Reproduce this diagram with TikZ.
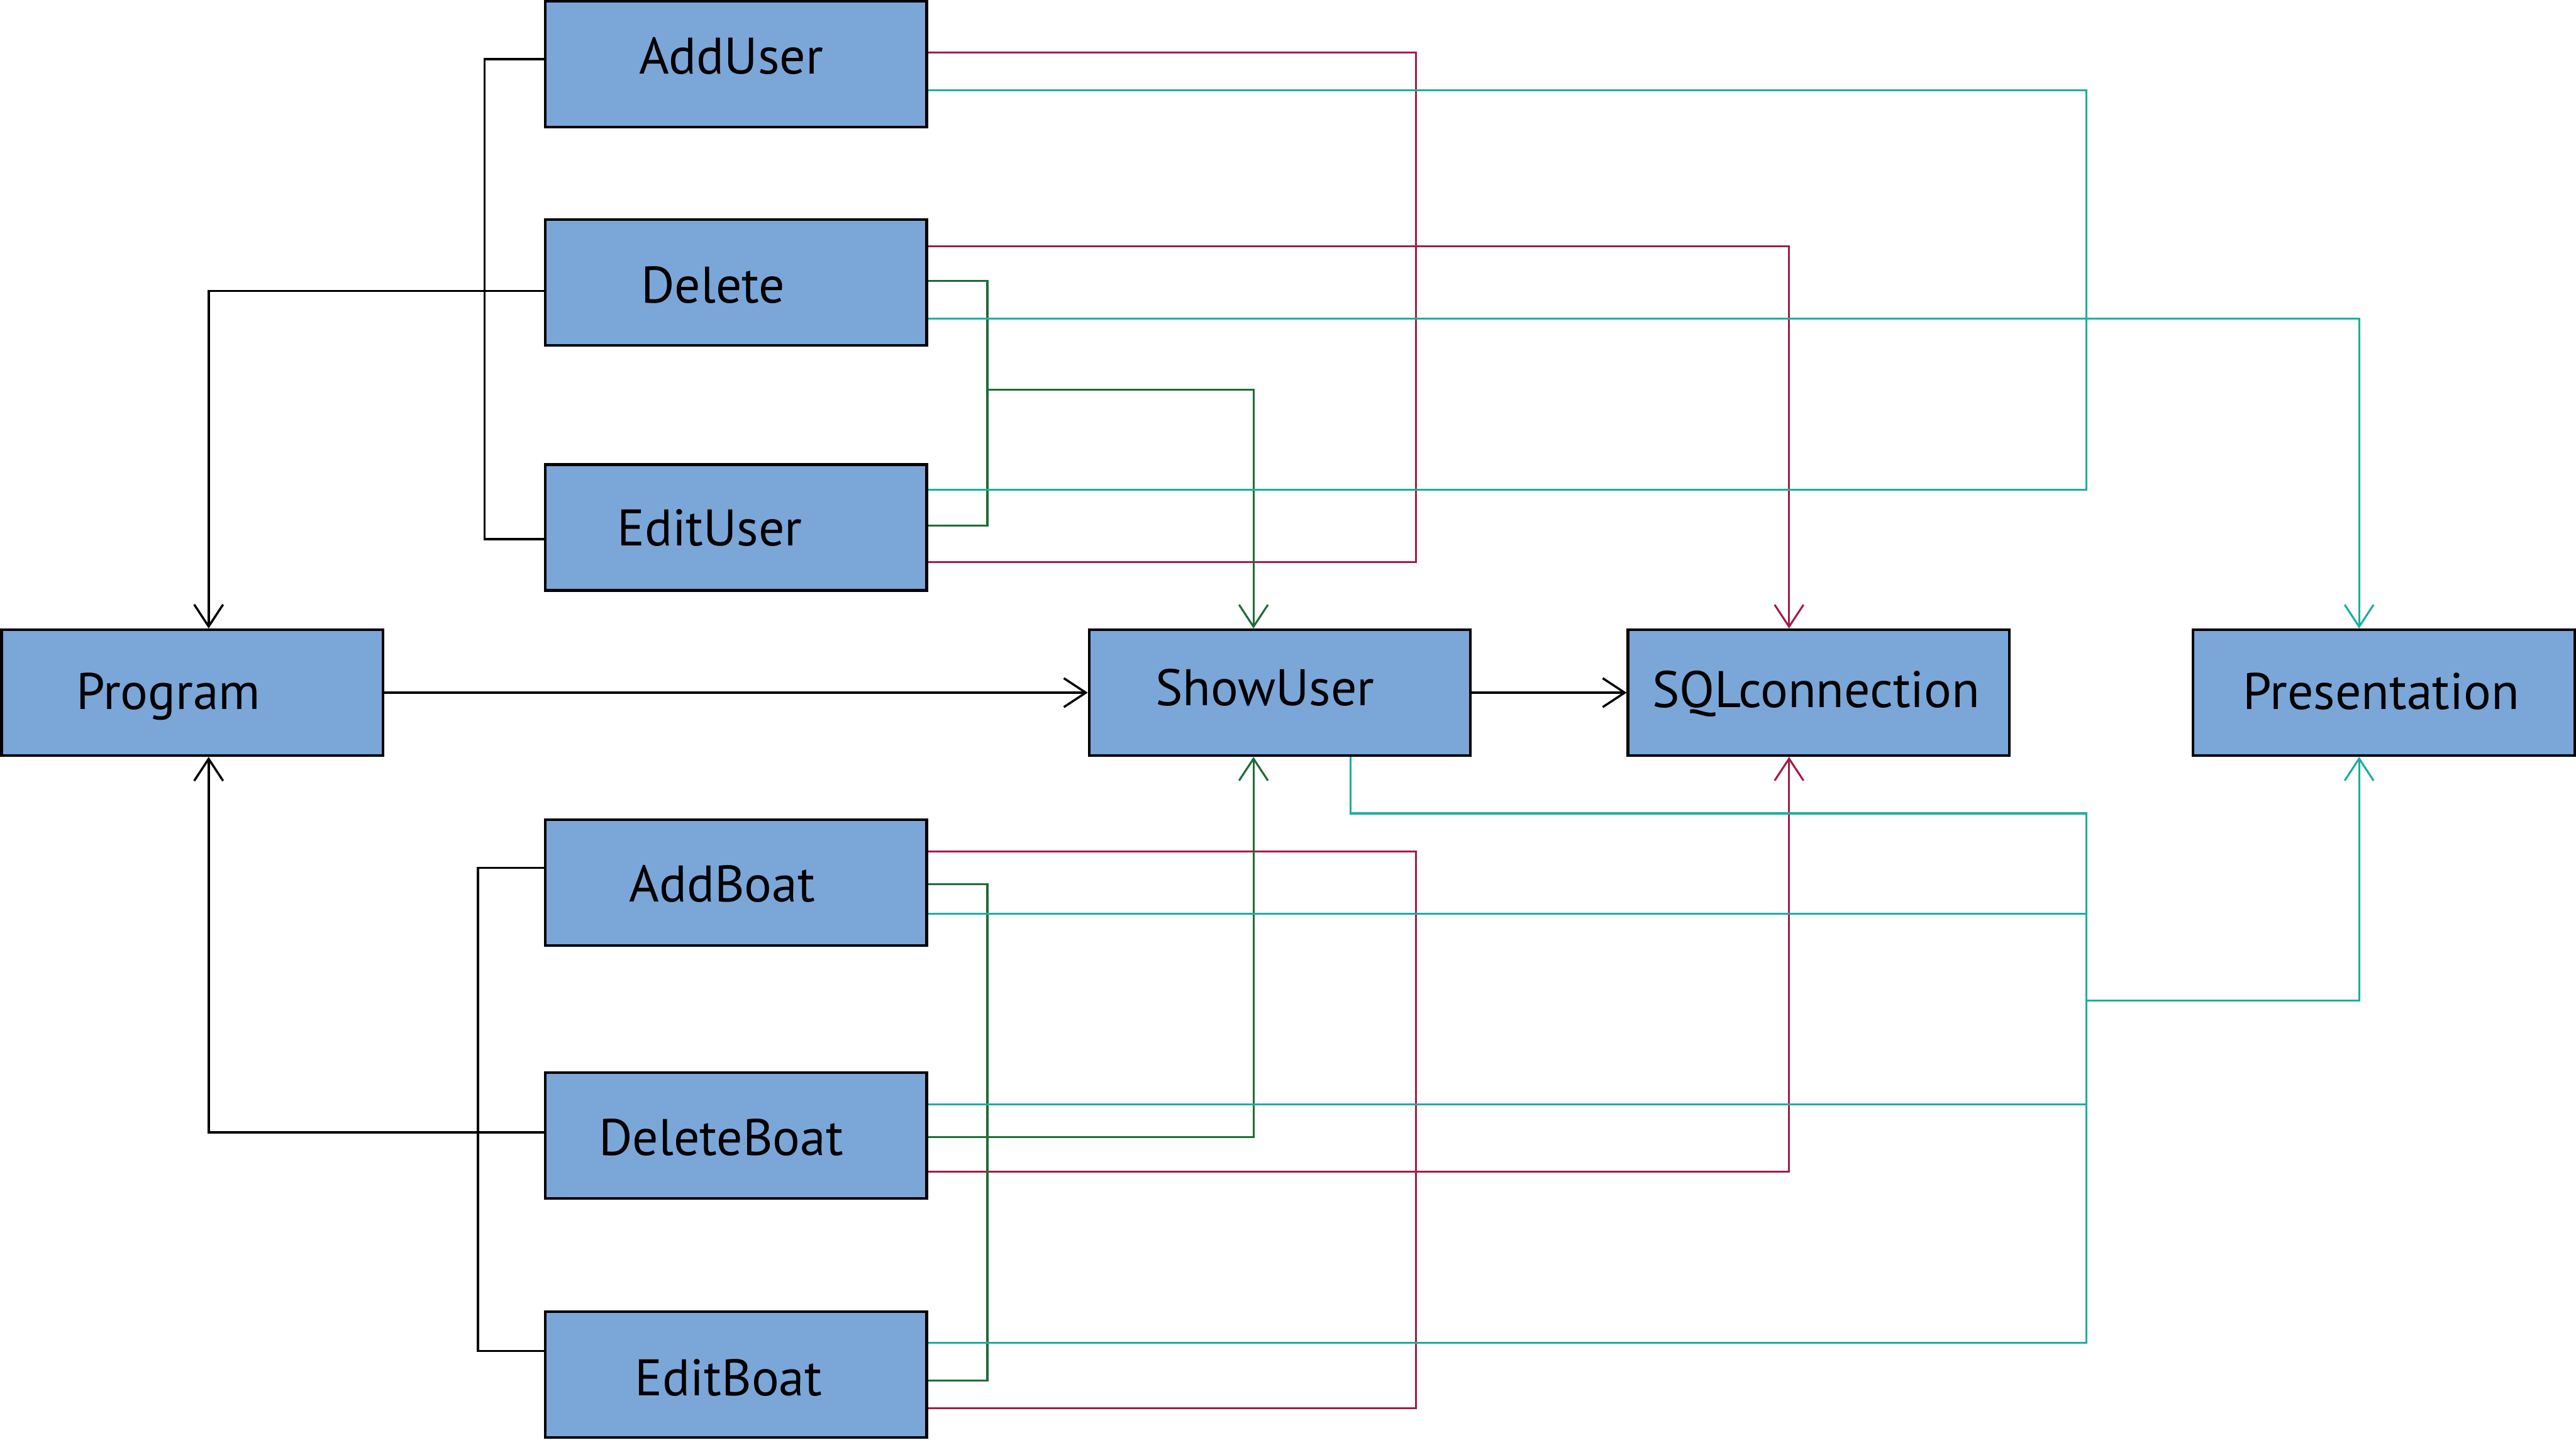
\documentclass[tikz,border=0pt]{standalone}
\usepackage{fontspec}
\setmainfont{PT Sans}
\usetikzlibrary{arrows.meta,calc}
\definecolor{boxfill}{HTML}{7BA6D8}
\definecolor{lred}{HTML}{A31C44}
\definecolor{lgreen}{HTML}{1F6B36}
\definecolor{lteal}{HTML}{1BAE9E}
\newcommand\lbl[3]{\hspace*{#1}\raisebox{#2}{#3}\hspace*{-#1}}
\begin{document}
\begin{tikzpicture}[x=0.01cm,y=-0.01cm,
  box/.style={draw=black, fill=boxfill, line width=0.45pt, minimum width=2.32cm,
    minimum height=0.765cm, inner sep=0pt, text height=6.23pt, text depth=0pt,
    font=\fontsize{8.9}{10}\selectfont},
  conn/.style={line width=0.34pt},
  blk/.style={conn, draw=black, line width=0.38pt},
  rd/.style={conn, draw=lred},
  gr/.style={conn, draw=lgreen},
  tl/.style={conn, draw=lteal},
  arr/.style={-{Straight Barb[length=3.8pt,width=5pt]}}]
\useasboundingbox (0,0) rectangle (1568,876);

% boxes
\node[box] (adduser)      at (448,39)    {\lbl{-0.03cm}{0.05cm}{AddUser}};
\node[box] (delete)       at (448,172)   {\lbl{-0.14cm}{-0.015cm}{Delete}};
\node[box] (edituser)     at (448,321)   {\lbl{-0.16cm}{0cm}{EditUser}};
\node[box] (program)      at (117,421.5) {\lbl{-0.145cm}{0.01cm}{Program}};
\node[box] (showuser)     at (779,421.5) {\lbl{-0.09cm}{0.03cm}{ShowUser}};
\node[box] (sql)          at (1107,421.5){\lbl{-0.015cm}{0.02cm}{SQLconnection}};
\node[box] (presentation) at (1451,421.5){\lbl{-0.015cm}{0.01cm}{Presentation}};
\node[box] (addboat)      at (448,537)   {\lbl{-0.085cm}{-0.01cm}{AddBoat}};
\node[box] (deleteboat)   at (448,691)   {\lbl{-0.09cm}{-0.01cm}{DeleteBoat}};
\node[box] (editboat)     at (448,836.5) {\lbl{-0.045cm}{-0.02cm}{EditBoat}};

% bus positions
\coordinate (bkT) at (295,0);
\coordinate (bkB) at (291,0);
\coordinate (rb)  at (862,0);
\coordinate (gb)  at (601,0);
\coordinate (tb)  at (1270,0);

% ports
\coordinate (auL) at ($(adduser.west)+(0,-3)$);
\coordinate (deL) at ($(delete.west)+(0,5)$);
\coordinate (euL) at ($(edituser.west)+(0,7)$);
\coordinate (abL) at ($(addboat.west)+(0,-9)$);
\coordinate (dbL) at ($(deleteboat.west)+(0,-2)$);
\coordinate (ebL) at ($(editboat.west)+(0,-14.5)$);

\coordinate (auR1) at ($(adduser.east)+(0,-7)$);
\coordinate (auR2) at ($(adduser.east)+(0,16)$);
\coordinate (deR1) at ($(delete.east)+(0,-22)$);
\coordinate (deR2) at ($(delete.east)+(0,-1)$);
\coordinate (deR3) at ($(delete.east)+(0,22)$);
\coordinate (euR1) at ($(edituser.east)+(0,-23)$);
\coordinate (euR2) at ($(edituser.east)+(0,-1)$);
\coordinate (euR3) at ($(edituser.east)+(0,21)$);
\coordinate (abR1) at ($(addboat.east)+(0,-19)$);
\coordinate (abR2) at ($(addboat.east)+(0,1)$);
\coordinate (abR3) at ($(addboat.east)+(0,19)$);
\coordinate (dbR1) at ($(deleteboat.east)+(0,-19)$);
\coordinate (dbR2) at ($(deleteboat.east)+(0,1)$);
\coordinate (dbR3) at ($(deleteboat.east)+(0,22)$);
\coordinate (ebR1) at ($(editboat.east)+(0,-19.5)$);
\coordinate (ebR2) at ($(editboat.east)+(0,3.5)$);
\coordinate (ebR3) at ($(editboat.east)+(0,20.5)$);

\coordinate (gj) at (601,237);
\coordinate (tt) at (1270,495);
\coordinate (tj) at (1270,609);
\coordinate (suB) at ($(showuser.south)+(43,0)$);

% black
\draw[blk] (auL) -- (auL -| bkT) -- (euL -| bkT) -- (euL);
\draw[blk,arr] (deL) -| ($(program.north)+(10,0)$);
\draw[blk] (abL) -- (abL -| bkB) -- (ebL -| bkB) -- (ebL);
\draw[blk,arr] (dbL) -| ($(program.south)+(10,0)$);
\draw[blk,arr] (program.east) -- (showuser.west);
\draw[blk,arr] (showuser.east) -- (sql.west);

% red
\draw[rd] (auR1) -- (auR1 -| rb) -- (euR3 -| rb) -- (euR3);
\draw[rd,arr] (deR1) -| ($(sql.north)+(-18,0)$);
\draw[rd] (abR1) -- (abR1 -| rb) -- (ebR3 -| rb) -- (ebR3);
\draw[rd,arr] (dbR3) -| ($(sql.south)+(-18,0)$);

% green
\draw[gr] (deR2) -- (deR2 -| gb) -- (euR2 -| gb) -- (euR2);
\draw[gr,arr] (gj) -| ($(showuser.north)+(-16,0)$);
\draw[gr] (abR2) -- (abR2 -| gb) -- (ebR2 -| gb) -- (ebR2);
\draw[gr,arr] (dbR2) -| ($(showuser.south)+(-16,0)$);

% teal
\draw[tl] (auR2) -- (auR2 -| tb) -- (euR1 -| tb) -- (euR1);
\draw[tl,arr] (deR3) -| ($(presentation.north)+(-15,0)$);
\draw[tl] (suB) |- (tt) -- (ebR1 -| tb) -- (ebR1);
\draw[tl] (abR3) -- (abR3 -| tb);
\draw[tl] (dbR1) -- (dbR1 -| tb);
\draw[tl,arr] (tj) -| ($(presentation.south)+(-15,0)$);
\end{tikzpicture}
\end{document}
